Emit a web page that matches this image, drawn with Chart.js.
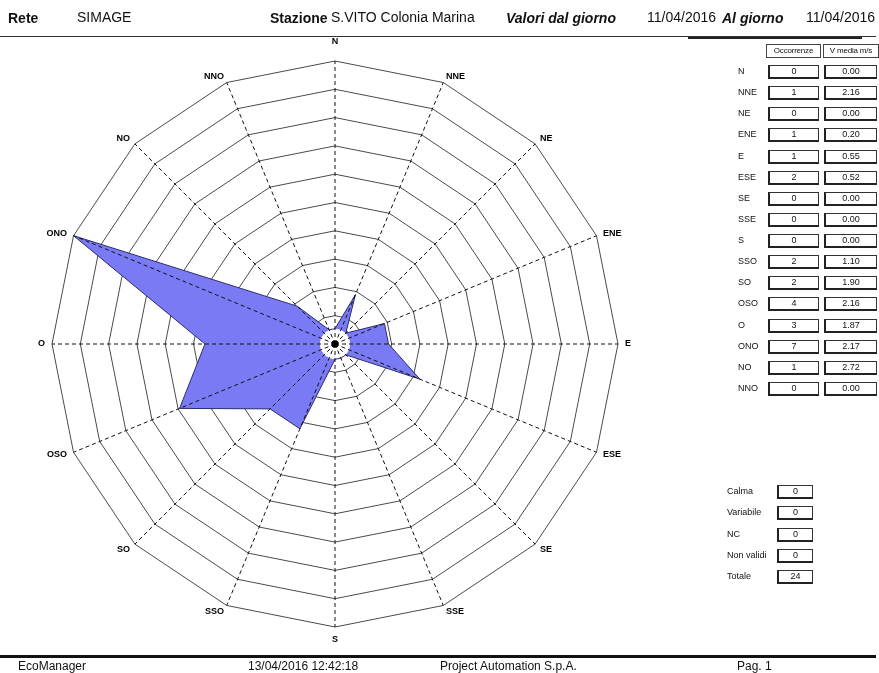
<!DOCTYPE html>
<html>
<head>
<meta charset="utf-8">
<script src="https://cdn.jsdelivr.net/npm/chart.js@4/dist/chart.umd.min.js"></script>
<style>
  html, body { margin:0; padding:0; background:#fff; }
  body { width:879px; height:673px; position:relative; overflow:hidden; font-family:"Liberation Sans", Arial, sans-serif; color:#111; }
  #c { position:absolute; left:0; top:0; }
  .t { position:absolute; white-space:nowrap; line-height:16px; }
  .h { font-size:14px; }
  .b { font-weight:bold; }
  .bi { font-weight:bold; font-style:italic; }
  .lbl { position:absolute; font-size:9px; line-height:13px; white-space:nowrap; }
  .box { position:absolute; box-sizing:border-box; height:14px; border:1px solid #333; border-left:2px solid #222; border-bottom:2px solid #222; font-size:9px; line-height:11px; text-align:center; background:#fff; }
  .hbox { position:absolute; box-sizing:border-box; height:14px; border:1px solid #444; font-size:8px; line-height:12px; text-align:center; background:#fff; letter-spacing:-0.2px; }
  .foot { position:absolute; top:658px; font-size:12px; line-height:16px; white-space:nowrap; }
</style>
</head>
<body>
<canvas id="c" width="879" height="673"></canvas>

<div class="t h b" style="left:8px;top:10px;">Rete</div>
<div class="t h" style="left:77px;top:9px;">SIMAGE</div>
<div class="t h b" style="left:270px;top:10px;">Stazione</div>
<div class="t h" style="left:331px;top:9px;">S.VITO Colonia Marina</div>
<div class="t h bi" style="left:506px;top:10px;">Valori dal giorno</div>
<div class="t h" style="left:647px;top:9px;">11/04/2016</div>
<div class="t h bi" style="left:722px;top:10px;">Al giorno</div>
<div class="t h" style="left:806px;top:9px;">11/04/2016</div>
<div style="position:absolute;left:0;top:36px;width:876px;height:1px;background:#333;"></div>
<div style="position:absolute;left:688px;top:37px;width:174px;height:2px;background:#222;"></div>

<div id="table"></div>

<div style="position:absolute;left:0;top:655px;width:876px;height:3px;background:#111;"></div>
<div class="foot" style="left:18px;">EcoManager</div>
<div class="foot" style="left:248px;">13/04/2016 12:42:18</div>
<div class="foot" style="left:440px;">Project Automation S.p.A.</div>
<div class="foot" style="left:737px;">Pag. 1</div>

<script>
// ---- data ----
const directions = ['N','NNE','NE','ENE','E','ESE','SE','SSE','S','SSO','SO','OSO','O','ONO','NO','NNO'];
const occurrences = [0,1,0,1,1,2,0,0,0,2,2,4,3,7,1,0];
const speeds = ['0.00','2.16','0.00','0.20','0.55','0.52','0.00','0.00','0.00','1.10','1.90','2.16','1.87','2.17','2.72','0.00'];
const columnHeaders = ['Occorrenze','V media m/s'];
const summaryLabels = ['Calma','Variabile','NC','Non validi','Totale'];
const summaryValues = [0,0,0,0,24];
const scaleMin = -0.4;
const scaleMax = 7;
const ringCount = 10;

// ---- HTML table ----
const tbl = document.getElementById('table');
let html = '';
html += '<div class="hbox" style="left:766px;top:44px;width:55px;">' + columnHeaders[0] + '</div>';
html += '<div class="hbox" style="left:823px;top:44px;width:56px;">' + columnHeaders[1] + '</div>';
directions.forEach((d, i) => {
  const cy = 72 + i * 21.13;
  html += '<div class="lbl" style="left:738px;top:' + (cy - 7) + 'px;">' + d + '</div>';
  html += '<div class="box" style="left:768px;top:' + (cy - 7) + 'px;width:51px;">' + occurrences[i] + '</div>';
  html += '<div class="box" style="left:824px;top:' + (cy - 7) + 'px;width:53px;">' + speeds[i] + '</div>';
});
summaryLabels.forEach((s, i) => {
  const cy = 492 + i * 21.3;
  html += '<div class="lbl" style="left:727px;top:' + (cy - 7) + 'px;">' + s + '</div>';
  html += '<div class="box" style="left:777px;top:' + (cy - 7) + 'px;width:36px;">' + summaryValues[i] + '</div>';
});
tbl.innerHTML = html;

// ---- plugin: dashed spokes over fill, centre dot, direction labels ----
const rosePlugin = {
  id: 'rose',
  afterDatasetsDraw(chart) {
    const s = chart.scales.r;
    const ctx = chart.ctx;
    const n = chart.data.labels.length;
    ctx.save();
    ctx.setLineDash([4, 3]);
    ctx.lineWidth = 1;
    ctx.strokeStyle = '#111';
    for (let i = 0; i < n; i++) {
      const p = s.getPointPosition(i, s.drawingArea);
      ctx.beginPath();
      ctx.moveTo(s.xCenter, s.yCenter);
      ctx.lineTo(p.x, p.y);
      ctx.stroke();
    }
    ctx.setLineDash([]);
    ctx.fillStyle = '#000';
    ctx.beginPath();
    ctx.arc(s.xCenter, s.yCenter, 3.5, 0, Math.PI * 2);
    ctx.fill();
    // labels
    ctx.font = 'bold 9px "Liberation Sans", Arial, sans-serif';
    ctx.fillStyle = '#000';
    ctx.textBaseline = 'middle';
    for (let i = 0; i < n; i++) {
      const p = s.getPointPosition(i, s.drawingArea + 7);
      const ang = i * 360 / n;
      let x = p.x, y = p.y;
      if (ang === 0) { ctx.textAlign = 'center'; y -= 12; }
      else if (ang === 180) { ctx.textAlign = 'center'; y += 6; }
      else if (ang < 180) { ctx.textAlign = 'left'; }
      else { ctx.textAlign = 'right'; }
      ctx.fillText(chart.data.labels[i], x, y);
    }
    ctx.restore();
  }
};

new Chart(document.getElementById('c'), {
  type: 'radar',
  data: {
    labels: directions,
    datasets: [{
      data: occurrences,
      backgroundColor: '#7a7af5',
      borderColor: '#2b2b70',
      borderWidth: 1,
      pointRadius: 0,
      pointHoverRadius: 0,
      fill: true,
      tension: 0
    }]
  },
  options: {
    responsive: false,
    animation: false,
    devicePixelRatio: 1,
    layout: { padding: { left: 52, top: 61, right: 261, bottom: 46 } },
    plugins: { legend: { display: false }, tooltip: { enabled: false } },
    scales: {
      r: {
        min: scaleMin,
        max: scaleMax,
        beginAtZero: false,
        afterBuildTicks(scale) {
          const t = [];
          for (let k = 0; k <= ringCount; k++) t.push({ value: scaleMin + (scaleMax - scaleMin) * k / ringCount });
          scale.ticks = t;
        },
        ticks: { display: false },
        grid: { color: '#4a4a4a', lineWidth: 1 },
        angleLines: { display: false },
        pointLabels: { display: false }
      }
    }
  },
  plugins: [rosePlugin]
});
</script>
</body>
</html>
